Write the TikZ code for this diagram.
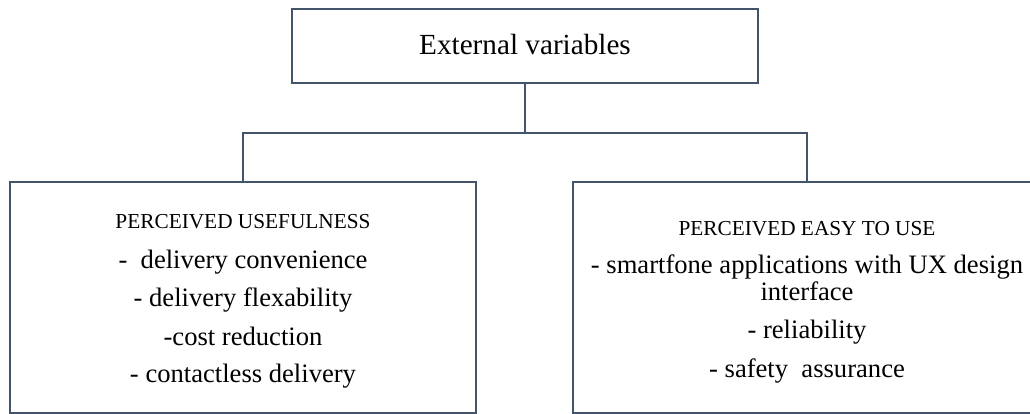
\documentclass[tikz,border=0pt]{standalone}
\usepackage{fontspec}
\setmainfont{Liberation Serif}
\definecolor{linec}{HTML}{44546A}
\begin{document}
\begin{tikzpicture}[x=1pt,y=1pt,
  box/.style={draw=linec,line width=2pt,inner sep=0pt,outer sep=0pt,fill=none},
  conn/.style={draw=linec,line width=2pt},
  titletxt/.style={anchor=base,inner sep=0pt,font=\fontsize{29.2}{34}\selectfont},
  headtxt/.style={anchor=base,inner sep=0pt,font=\fontsize{21.3}{26}\selectfont},
  bodytxt/.style={anchor=base,inner sep=0pt,font=\fontsize{26.6}{31}\selectfont}]
\useasboundingbox (0,0) rectangle (1030,-414);
% boxes
\node[box,minimum width=466pt,minimum height=74pt] (top) at (525,-46) {};
\node[box,minimum width=466pt,minimum height=231pt] (left) at (243,-297.5) {};
\node[box,minimum width=468pt,minimum height=231pt] (right) at (807,-297.5) {};
% connectors
\coordinate (j) at (525,-133);
\draw[conn] (top.south) -- (j);
\draw[conn] (left.north) |- (j) -| (right.north);
% texts
\node[titletxt] (ttl) at (525,-55) {External variables};
\node[headtxt] (lh) at (243,-229) {PERCEIVED USEFULNESS};
\node[bodytxt] (l1) at (243,-268) {-~ delivery convenience};
\node[bodytxt] (l2) at (243,-306) {- delivery flexability};
\node[bodytxt] (l3) at (243,-345) {-cost reduction};
\node[bodytxt] (l4) at (243,-382) {- contactless delivery};
\node[headtxt] (rh) at (807,-235) {PERCEIVED EASY TO USE};
\node[bodytxt] (r1) at (807,-273) {- smartfone applications with UX design};
\node[bodytxt] (r1b) at (807,-300) {interface};
\node[bodytxt] (r2) at (807,-338) {- reliability};
\node[bodytxt] (r3) at (807,-377) {- safety~ assurance};
\end{tikzpicture}
\end{document}
